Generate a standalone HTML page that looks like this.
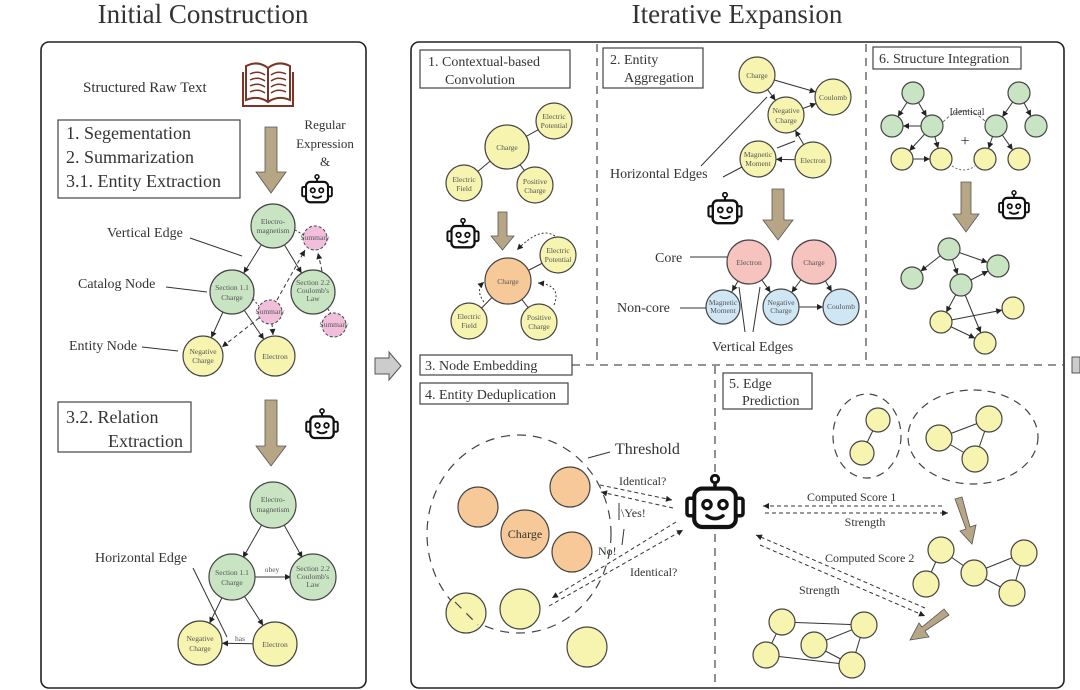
<!DOCTYPE html>
<html><head><meta charset="utf-8"><style>
html,body{margin:0;padding:0;background:#fff;}
svg{display:block;}
text{font-family:"Liberation Serif",serif;fill:#333;}
.n{font-size:7.5px;fill:#555;text-anchor:middle;}
.g{fill:#c8e4c3;stroke:#444;stroke-width:1.2;}
.y{fill:#f7f4b0;stroke:#444;stroke-width:1.2;}
.o{fill:#f7c998;stroke:#444;stroke-width:1.2;}
.p{fill:#f1bfdc;stroke:#444;stroke-width:1;stroke-dasharray:3 2;}
.r{fill:#f6c3bf;stroke:#444;stroke-width:1.2;}
.b{fill:#cfe7f5;stroke:#444;stroke-width:1.2;}
.e{stroke:#333;stroke-width:1;fill:none;}
.box{fill:#fff;stroke:#444;stroke-width:1.2;}
.dash{stroke:#555;stroke-width:1.3;stroke-dasharray:8 6;fill:none;}
.arr{fill:#b6a685;stroke:#555;stroke-width:0.8;}
.lbl{font-size:14px;}
</style></head><body>
<svg width="1080" height="690" viewBox="0 0 1080 690" xmlns="http://www.w3.org/2000/svg">
<defs>
<marker id="a0" markerUnits="userSpaceOnUse" markerWidth="8" markerHeight="8" refX="6" refY="3" orient="auto" overflow="visible"><path d="M0,0 L6,3 L0,6z" fill="#222"/></marker>
<marker id="a11" markerUnits="userSpaceOnUse" markerWidth="8" markerHeight="8" refX="17" refY="3" orient="auto" overflow="visible"><path d="M0,0 L6,3 L0,6z" fill="#222"/></marker>
<marker id="a12" markerUnits="userSpaceOnUse" markerWidth="8" markerHeight="8" refX="18" refY="3" orient="auto" overflow="visible"><path d="M0,0 L6,3 L0,6z" fill="#222"/></marker>
<marker id="a18" markerUnits="userSpaceOnUse" markerWidth="8" markerHeight="8" refX="24" refY="3" orient="auto" overflow="visible"><path d="M0,0 L6,3 L0,6z" fill="#222"/></marker>
<marker id="a20" markerUnits="userSpaceOnUse" markerWidth="8" markerHeight="8" refX="26" refY="3" orient="auto" overflow="visible"><path d="M0,0 L6,3 L0,6z" fill="#222"/></marker>
<marker id="a22" markerUnits="userSpaceOnUse" markerWidth="8" markerHeight="8" refX="28" refY="3" orient="auto" overflow="visible"><path d="M0,0 L6,3 L0,6z" fill="#222"/></marker>
<symbol id="robot" viewBox="0 0 40 36">
<line x1="20" y1="4" x2="20" y2="9" stroke="#111" stroke-width="2.2"/>
<circle cx="20" cy="3" r="2.3" fill="#fff" stroke="#111" stroke-width="1.8"/>
<rect x="7" y="9" width="26" height="24" rx="5" fill="#fff" stroke="#111" stroke-width="2.6"/>
<rect x="2.5" y="15" width="4.5" height="11" rx="1.5" fill="#fff" stroke="#111" stroke-width="2.2"/>
<rect x="33" y="15" width="4.5" height="11" rx="1.5" fill="#fff" stroke="#111" stroke-width="2.2"/>
<circle cx="15" cy="19" r="2.6" fill="#fff" stroke="#111" stroke-width="2"/>
<circle cx="25" cy="19" r="2.6" fill="#fff" stroke="#111" stroke-width="2"/>
<path d="M15,26 Q20,29.5 25,26" fill="none" stroke="#111" stroke-width="2.2" stroke-linecap="round"/>
</symbol>
</defs>

<!-- titles -->
<text x="203" y="23" font-size="27" text-anchor="middle">Initial Construction</text>
<text x="737" y="23" font-size="27" text-anchor="middle">Iterative Expansion</text>

<!-- panels -->
<rect x="41" y="42" width="325" height="646" rx="8" fill="none" stroke="#222" stroke-width="1.6"/>
<rect x="411" y="42" width="653" height="646" rx="8" fill="none" stroke="#222" stroke-width="1.6"/>
<polygon points="375,358 389,358 389,352 401,366 389,380 389,374 375,374" fill="#ccc" stroke="#555"/>
<polygon points="1072,357 1080,357 1080,373 1072,373" fill="#ccc" stroke="#555"/>

<!-- dashed separators -->
<line class="dash" x1="597" y1="44" x2="597" y2="365"/>
<line class="dash" x1="866" y1="44" x2="866" y2="365"/>
<line class="dash" x1="572" y1="365" x2="1063" y2="365"/>
<line class="dash" x1="715" y1="366" x2="715" y2="688"/>

<!-- ============ LEFT PANEL ============ -->
<text x="83" y="92" font-size="15">Structured Raw Text</text>
<!-- book -->
<g fill="none" stroke="#7a3524" stroke-width="2">
<path d="M246,66 Q258,60 268,68 Q278,60 290,66 L290,100 Q278,95 268,102 Q258,95 246,100 Z" fill="#fff"/>
<path d="M243,72 L243,106 L293,106 L293,72"/>
<line x1="268" y1="68" x2="268" y2="102"/>
<path d="M250,74 Q258,70 265,75 M250,80 Q258,76 265,81 M250,86 Q258,82 265,87 M250,92 Q258,88 265,93 M271,75 Q278,70 286,74 M271,81 Q278,76 286,80 M271,87 Q278,82 286,86 M271,93 Q278,88 286,92" stroke-width="1.5"/>
</g>
<rect class="box" x="58" y="120" width="182" height="78"/>
<text x="66" y="139" font-size="18">1. Segementation</text>
<text x="66" y="163" font-size="18">2. Summarization</text>
<text x="66" y="187" font-size="18">3.1. Entity Extraction</text>
<polygon class="arr" points="265,127 277,127 277,172 286,172 271,193 256,172 265,172"/>
<text x="325" y="129" font-size="13" text-anchor="middle">Regular</text>
<text x="325" y="148" font-size="13" text-anchor="middle">Expression</text>
<text x="325" y="166" font-size="13" text-anchor="middle">&amp;</text>
<use href="#robot" x="300" y="174" width="34" height="31"/>

<!-- graph 1 edges -->
<line class="e" x1="273" y1="226" x2="232" y2="292" marker-end="url(#a22)"/>
<line class="e" x1="273" y1="226" x2="313" y2="292" marker-end="url(#a22)"/>
<line class="e" x1="232" y1="292" x2="203" y2="356" marker-end="url(#a20)"/>
<line class="e" x1="232" y1="292" x2="275" y2="356" marker-end="url(#a20)"/>
<line class="e" x1="295" y1="230" x2="304" y2="235" stroke-dasharray="2 2"/>
<line class="e" x1="322" y1="271" x2="318" y2="253" stroke-dasharray="4 3" marker-end="url(#a0)"/>
<line class="e" x1="277" y1="300" x2="305" y2="250" stroke-dasharray="4 3" marker-end="url(#a0)"/>
<line class="e" x1="253" y1="299" x2="259" y2="306" stroke-dasharray="2 2"/>
<line class="e" x1="259" y1="318" x2="222" y2="347" stroke-dasharray="4 3" marker-end="url(#a0)"/>
<line class="e" x1="272" y1="324" x2="273" y2="335" stroke-dasharray="3 2" marker-end="url(#a0)"/>
<line class="e" x1="328" y1="309" x2="331" y2="314" stroke-dasharray="2 2"/>
<circle class="g" cx="273" cy="226" r="22"/>
<text class="n" x="273" y="224">Electro-</text><text class="n" x="273" y="233">magnetism</text>
<circle class="p" cx="315" cy="238" r="12"/><text class="n" x="315" y="240" font-size="5">Summary</text>
<circle class="g" cx="232" cy="292" r="22"/>
<text class="n" x="232" y="290">Section 1.1</text><text class="n" x="232" y="300">Charge</text>
<circle class="g" cx="313" cy="292" r="22"/>
<text class="n" x="313" y="285" font-size="6">Section 2.2</text><text class="n" x="313" y="293" font-size="6">Coulomb's</text><text class="n" x="313" y="301" font-size="6">Law</text>
<circle class="p" cx="270" cy="312" r="12"/><text class="n" x="270" y="314" font-size="5">Summary</text>
<circle class="p" cx="334" cy="325" r="12"/><text class="n" x="334" y="327" font-size="5">Summary</text>
<circle class="y" cx="203" cy="356" r="20"/>
<text class="n" x="203" y="354">Negative</text><text class="n" x="203" y="363">Charge</text>
<circle class="y" cx="275" cy="356" r="20"/><text class="n" x="275" y="359">Electron</text>
<text x="107" y="237" class="lbl">Vertical Edge</text>
<line class="e" x1="190" y1="238" x2="242" y2="256"/>
<text x="78" y="288" class="lbl">Catalog Node</text>
<line class="e" x1="166" y1="287" x2="207" y2="292"/>
<text x="69" y="350" class="lbl">Entity Node</text>
<line class="e" x1="142" y1="347" x2="178" y2="351"/>

<rect class="box" x="58" y="402" width="133" height="50"/>
<text x="66" y="423" font-size="18">3.2. Relation</text>
<text x="183" y="447" font-size="18" text-anchor="end">Extraction</text>
<polygon class="arr" points="265,400 277,400 277,446 286,446 271,466 256,446 265,446"/>
<use href="#robot" x="304" y="408" width="36" height="33"/>

<line class="e" x1="273" y1="505" x2="232" y2="577" marker-end="url(#a22)"/>
<line class="e" x1="273" y1="505" x2="313" y2="577" marker-end="url(#a22)"/>
<line class="e" x1="232" y1="577" x2="313" y2="577" marker-end="url(#a22)"/>
<line class="e" x1="232" y1="577" x2="200" y2="643" marker-end="url(#a22)"/>
<line class="e" x1="232" y1="577" x2="275" y2="644" marker-end="url(#a22)"/>
<line class="e" x1="275" y1="644" x2="200" y2="643" marker-end="url(#a22)"/>
<circle class="g" cx="273" cy="505" r="23"/>
<text class="n" x="273" y="502">Electro-</text><text class="n" x="273" y="512">magnetism</text>
<circle class="g" cx="232" cy="577" r="23"/>
<text class="n" x="232" y="575">Section 1.1</text><text class="n" x="232" y="585">Charge</text>
<circle class="g" cx="313" cy="577" r="23"/>
<text class="n" x="313" y="571" font-size="6">Section 2.2</text><text class="n" x="313" y="579" font-size="6">Coulomb's</text><text class="n" x="313" y="587" font-size="6">Law</text>
<circle class="y" cx="200" cy="643" r="22"/>
<text class="n" x="200" y="641">Negative</text><text class="n" x="200" y="651">Charge</text>
<circle class="y" cx="275" cy="644" r="22"/><text class="n" x="275" y="647">Electron</text>
<text x="272" y="572" class="n" font-size="7">obey</text>
<text x="240" y="641" class="n" font-size="7">has</text>
<text x="95" y="562" class="lbl">Horizontal Edge</text>
<line class="e" x1="193" y1="568" x2="227" y2="637"/>

<!-- ============ SECTION 1 ============ -->
<rect class="box" x="420" y="50" width="150" height="38"/>
<text x="428" y="66" font-size="14">1.  Contextual-based</text>
<text x="445" y="84" font-size="14">Convolution</text>
<line class="e" x1="507" y1="147" x2="554" y2="121"/>
<line class="e" x1="507" y1="147" x2="464" y2="183"/>
<line class="e" x1="507" y1="147" x2="535" y2="185"/>
<circle class="y" cx="554" cy="121" r="18"/><text class="n" x="554" y="119">Electric</text><text class="n" x="554" y="128">Potential</text>
<circle class="y" cx="507" cy="147" r="22"/><text class="n" x="507" y="150">Charge</text>
<circle class="y" cx="464" cy="183" r="18"/><text class="n" x="464" y="182">Electric</text><text class="n" x="464" y="191">Field</text>
<circle class="y" cx="535" cy="185" r="18"/><text class="n" x="535" y="184">Positive</text><text class="n" x="535" y="193">Charge</text>
<use href="#robot" x="445" y="218" width="36" height="32"/>
<polygon class="arr" points="498,212 507,212 507,236 514,236 502.5,250 491,236 498,236"/>
<line class="e" x1="508" y1="281" x2="558" y2="255"/>
<line class="e" x1="508" y1="281" x2="469" y2="321"/>
<line class="e" x1="508" y1="281" x2="539" y2="322"/>
<path class="e" d="M555,236 Q540,226 517,250" stroke-dasharray="2 2" marker-end="url(#a0)"/>
<path class="e" d="M484,302 Q475,290 484,282" stroke-dasharray="2 2" marker-end="url(#a0)"/>
<path class="e" d="M554,305 Q562,285 538,283" stroke-dasharray="2 2" marker-end="url(#a0)"/>
<circle class="o" cx="508" cy="281" r="23"/><text class="n" x="508" y="284">Charge</text>
<circle class="y" cx="558" cy="255" r="18"/><text class="n" x="558" y="253">Electric</text><text class="n" x="558" y="262">Potential</text>
<circle class="y" cx="469" cy="321" r="18"/><text class="n" x="469" y="319">Electric</text><text class="n" x="469" y="328">Field</text>
<circle class="y" cx="539" cy="322" r="18"/><text class="n" x="539" y="320">Positive</text><text class="n" x="539" y="329">Charge</text>

<!-- ============ SECTION 2 ============ -->
<rect class="box" x="603" y="48" width="100" height="40"/>
<text x="610" y="64" font-size="14">2. Entity</text>
<text x="624" y="82" font-size="14">Aggregation</text>
<line class="e" x1="757" y1="75" x2="786" y2="115" marker-end="url(#a18)"/>
<line class="e" x1="757" y1="75" x2="833" y2="97" marker-end="url(#a18)"/>
<line class="e" x1="786" y1="115" x2="833" y2="97" marker-end="url(#a18)"/>
<line class="e" x1="813" y1="160" x2="786" y2="115" marker-end="url(#a18)"/>
<line class="e" x1="813" y1="160" x2="758" y2="159" marker-end="url(#a18)"/>
<circle class="y" cx="757" cy="75" r="18"/><text class="n" x="757" y="78">Charge</text>
<circle class="y" cx="833" cy="97" r="18"/><text class="n" x="833" y="100">Coulomb</text>
<circle class="y" cx="786" cy="115" r="18"/><text class="n" x="786" y="113">Negative</text><text class="n" x="786" y="123">Charge</text>
<circle class="y" cx="758" cy="159" r="18"/><text class="n" x="758" y="157">Magnetic</text><text class="n" x="758" y="166">Moment</text>
<circle class="y" cx="813" cy="160" r="18"/><text class="n" x="813" y="163">Electron</text>
<text x="610" y="178" class="lbl">Horizontal Edges</text>
<line class="e" x1="701" y1="166" x2="767" y2="97"/>
<line class="e" x1="723" y1="177" x2="742" y2="167"/>
<line class="e" x1="777" y1="148" x2="795" y2="141"/>
<use href="#robot" x="706" y="192" width="38" height="34"/>
<polygon class="arr" points="772,189 784,189 784,220 793,220 778,240 763,220 772,220"/>
<line class="e" x1="749" y1="262" x2="723" y2="307" marker-end="url(#a18)"/>
<line class="e" x1="749" y1="262" x2="781" y2="307" marker-end="url(#a18)"/>
<line class="e" x1="814" y1="262" x2="781" y2="307" marker-end="url(#a18)"/>
<line class="e" x1="814" y1="262" x2="841" y2="307" marker-end="url(#a18)"/>
<line class="e" x1="781" y1="307" x2="841" y2="307" marker-end="url(#a18)"/>
<line class="e" x1="739" y1="287" x2="745" y2="332"/>
<line class="e" x1="760" y1="287" x2="753" y2="332"/>
<circle class="r" cx="749" cy="262" r="22"/><text class="n" x="749" y="265">Electron</text>
<circle class="r" cx="814" cy="262" r="22"/><text class="n" x="814" y="265">Charge</text>
<circle class="b" cx="723" cy="307" r="17"/><text class="n" x="723" y="305" font-size="6">Magnetic</text><text class="n" x="723" y="313" font-size="6">Moment</text>
<circle class="b" cx="781" cy="307" r="18"/><text class="n" x="781" y="305" font-size="6">Negative</text><text class="n" x="781" y="313" font-size="6">Charge</text>
<circle class="b" cx="841" cy="307" r="18"/><text class="n" x="841" y="309" font-size="6">Coulomb</text>
<text x="655" y="262" class="lbl">Core</text>
<line class="e" x1="690" y1="257" x2="727" y2="257"/>
<text x="617" y="312" class="lbl">Non-core</text>
<line class="e" x1="680" y1="308" x2="706" y2="308"/>
<text x="712" y="351" class="lbl">Vertical Edges</text>

<!-- ============ SECTION 6 ============ -->
<rect class="box" x="873" y="47" width="148" height="22"/>
<text x="879" y="63" font-size="14">6. Structure Integration</text>
<path d="M943,122 Q964,100 986,122" fill="none" stroke="#666" stroke-dasharray="3 2"/>
<path d="M952,166 Q964,174 975,166" fill="none" stroke="#666" stroke-dasharray="2 2"/>
<text x="967" y="115" font-size="10" text-anchor="middle" fill="#555">Identical</text>
<text x="965" y="146" font-size="16" text-anchor="middle">+</text>
<line class="e" x1="913" y1="93" x2="892" y2="126" marker-end="url(#a11)"/>
<line class="e" x1="913" y1="93" x2="932" y2="126" marker-end="url(#a11)"/>
<line class="e" x1="932" y1="126" x2="892" y2="126" marker-end="url(#a11)"/>
<line class="e" x1="932" y1="126" x2="902" y2="159" marker-end="url(#a11)"/>
<line class="e" x1="932" y1="126" x2="941" y2="159" marker-end="url(#a11)"/>
<line class="e" x1="902" y1="159" x2="941" y2="159" marker-end="url(#a11)"/>
<line class="e" x1="1019" y1="93" x2="996" y2="126" marker-end="url(#a11)"/>
<line class="e" x1="1019" y1="93" x2="1036" y2="126" marker-end="url(#a11)"/>
<line class="e" x1="996" y1="126" x2="985" y2="159" marker-end="url(#a11)"/>
<line class="e" x1="996" y1="126" x2="1019" y2="159" marker-end="url(#a11)"/>
<g>
<circle class="g" cx="913" cy="93" r="11"/><circle class="g" cx="892" cy="126" r="11"/><circle class="g" cx="932" cy="126" r="11"/>
<circle class="g" cx="1019" cy="93" r="11"/><circle class="g" cx="996" cy="126" r="11"/><circle class="g" cx="1036" cy="126" r="11"/>
<circle class="y" cx="902" cy="159" r="11"/><circle class="y" cx="941" cy="159" r="11"/><circle class="y" cx="985" cy="159" r="11"/><circle class="y" cx="1019" cy="159" r="11"/>
</g>
<polygon class="arr" points="961,182 971,182 971,214 979,214 966,232 953,214 961,214"/>
<use href="#robot" x="997" y="190" width="34" height="31"/>
<line class="e" x1="949" y1="249" x2="912" y2="278" marker-end="url(#a11)"/>
<line class="e" x1="949" y1="249" x2="998" y2="266" marker-end="url(#a11)"/>
<line class="e" x1="949" y1="249" x2="961" y2="285" marker-end="url(#a11)"/>
<line class="e" x1="961" y1="285" x2="998" y2="266" marker-end="url(#a11)"/>
<line class="e" x1="961" y1="285" x2="941" y2="322" marker-end="url(#a11)"/>
<line class="e" x1="961" y1="285" x2="985" y2="343" marker-end="url(#a11)"/>
<line class="e" x1="941" y1="322" x2="1013" y2="308" marker-end="url(#a11)"/>
<line class="e" x1="941" y1="322" x2="985" y2="343" marker-end="url(#a11)"/>
<circle class="g" cx="949" cy="249" r="11"/><circle class="g" cx="912" cy="278" r="11"/><circle class="g" cx="998" cy="266" r="11"/><circle class="g" cx="961" cy="285" r="11"/>
<circle class="y" cx="941" cy="322" r="11"/><circle class="y" cx="1013" cy="308" r="11"/><circle class="y" cx="985" cy="343" r="11"/>

<!-- ============ SECTION 3/4 ============ -->
<rect class="box" x="420" y="355" width="152" height="20"/>
<text x="425" y="370" font-size="14">3. Node Embedding</text>
<rect class="box" x="420" y="383" width="148" height="21"/>
<text x="425" y="399" font-size="14">4. Entity Deduplication</text>
<ellipse cx="519" cy="534" rx="92" ry="99" fill="none" stroke="#444" stroke-width="1.2" stroke-dasharray="9 7"/>
<circle class="o" cx="570" cy="487" r="20"/>
<circle class="o" cx="478" cy="507" r="20"/>
<circle class="o" cx="525" cy="534" r="24"/><text x="525" y="538" font-size="12" text-anchor="middle" fill="#555">Charge</text>
<circle class="o" cx="572" cy="552" r="20"/>
<circle class="y" cx="466" cy="613" r="20"/>
<circle class="y" cx="520" cy="609" r="20"/>
<circle class="y" cx="587" cy="647" r="20"/>
<line x1="455" y1="602" x2="478" y2="625" stroke="#444" stroke-width="1.2" stroke-dasharray="9 7"/>
<text x="615" y="454" font-size="16">Threshold</text>
<line class="e" x1="588" y1="458" x2="610" y2="452"/>
<text x="619" y="485" font-size="12">Identical?</text>
<text x="621" y="517" font-size="12">\Yes!</text>
<text x="598" y="555" font-size="12">No!</text>
<text x="630" y="576" font-size="12">Identical?</text>
<line class="e" x1="600" y1="485" x2="672" y2="500" stroke-dasharray="4 3" marker-end="url(#a0)"/>
<line class="e" x1="673" y1="508" x2="601" y2="492" stroke-dasharray="4 3" marker-end="url(#a0)"/>
<line class="e" x1="549" y1="606" x2="683" y2="530" stroke-dasharray="4 3" marker-end="url(#a0)"/>
<line class="e" x1="676" y1="522" x2="552" y2="598" stroke-dasharray="4 3" marker-end="url(#a0)"/>
<line class="e" x1="619" y1="503" x2="619" y2="520"/>
<line class="e" x1="624" y1="529" x2="622" y2="545"/>
<use href="#robot" x="683" y="474" width="64" height="58"/>

<!-- ============ SECTION 5 ============ -->
<rect class="box" x="723" y="373" width="89" height="36"/>
<text x="729" y="388" font-size="14">5. Edge</text>
<text x="742" y="405" font-size="14">Prediction</text>
<ellipse cx="867" cy="436" rx="34" ry="42" fill="none" stroke="#444" stroke-width="1.2" stroke-dasharray="8 6"/>
<ellipse cx="973" cy="437" rx="65" ry="47" fill="none" stroke="#444" stroke-width="1.2" stroke-dasharray="8 6"/>
<line class="e" x1="878" y1="420" x2="862" y2="453"/>
<line class="e" x1="939" y1="438" x2="989" y2="419"/>
<line class="e" x1="939" y1="438" x2="975" y2="459"/>
<line class="e" x1="989" y1="419" x2="975" y2="459"/>
<circle class="y" cx="878" cy="420" r="12"/><circle class="y" cx="862" cy="453" r="12"/>
<circle class="y" cx="939" cy="438" r="13"/><circle class="y" cx="989" cy="419" r="13"/><circle class="y" cx="975" cy="459" r="13"/>
<text x="807" y="501" font-size="12">Computed Score 1</text>
<text x="865" y="526" font-size="12" text-anchor="middle">Strength</text>
<line class="e" x1="942" y1="506" x2="763" y2="506" stroke-dasharray="4 3" marker-end="url(#a0)"/>
<line class="e" x1="765" y1="513" x2="948" y2="513" stroke-dasharray="4 3" marker-end="url(#a0)"/>
<line class="e" x1="925" y1="608" x2="756" y2="535" stroke-dasharray="4 3" marker-end="url(#a0)"/>
<line class="e" x1="760" y1="545" x2="925" y2="616" stroke-dasharray="4 3" marker-end="url(#a0)"/>
<text x="825" y="562" font-size="12">Computed Score 2</text>
<text x="799" y="594" font-size="12">Strength</text>
<polygon class="arr" points="955,499 962,497 970,527 976,525 972,544 960,531 966,529"/>
<line class="e" x1="941" y1="550" x2="974" y2="573"/>
<line class="e" x1="974" y1="573" x2="1024" y2="553"/>
<line class="e" x1="1024" y1="553" x2="1012" y2="593"/>
<line class="e" x1="974" y1="573" x2="1012" y2="593"/>
<line class="e" x1="926" y1="584" x2="941" y2="550"/>
<circle class="y" cx="941" cy="550" r="13"/><circle class="y" cx="1024" cy="553" r="13"/><circle class="y" cx="974" cy="573" r="13"/><circle class="y" cx="926" cy="584" r="13"/><circle class="y" cx="1012" cy="593" r="13"/>
<polygon class="arr" points="944,609 949,615 925,631 929,637 910,640 919,623 922,627"/>
<line class="e" x1="782" y1="622" x2="864" y2="625"/>
<line class="e" x1="782" y1="622" x2="766" y2="655"/>
<line class="e" x1="814" y1="645" x2="864" y2="625"/>
<line class="e" x1="814" y1="645" x2="852" y2="665"/>
<line class="e" x1="766" y1="655" x2="852" y2="665"/>
<line class="e" x1="864" y1="625" x2="852" y2="665"/>
<circle class="y" cx="782" cy="622" r="13"/><circle class="y" cx="864" cy="625" r="13"/><circle class="y" cx="814" cy="645" r="13"/><circle class="y" cx="766" cy="655" r="13"/><circle class="y" cx="852" cy="665" r="13"/>
</svg>
</body></html>
